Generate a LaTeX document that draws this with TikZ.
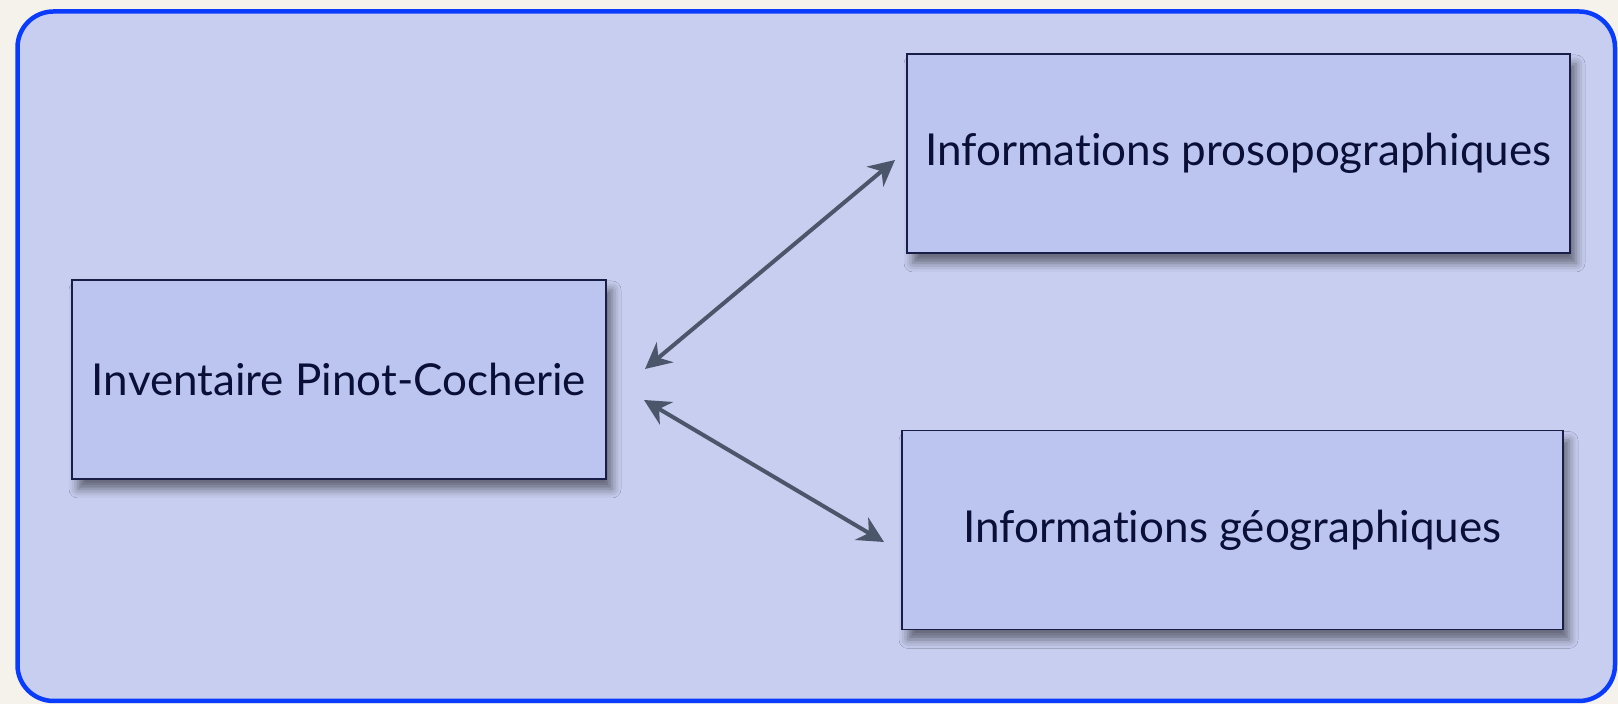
\documentclass[tikz,border=0pt]{standalone}
\usepackage{fontspec}
\setmainfont{Lato}[Ligatures=NoCommon]
\usetikzlibrary{arrows.meta,shadows.blur}
\definecolor{pageback}{RGB}{245,242,236}
\definecolor{panelback}{RGB}{200,206,240}
\definecolor{panelline}{RGB}{10,60,255}
\definecolor{boxback}{RGB}{188,197,240}
\definecolor{boxline}{RGB}{25,30,70}
\definecolor{boxtext}{RGB}{10,15,55}
\definecolor{arrowgrey}{RGB}{75,86,106}
\tikzset{
  infobox/.style={draw=boxline,fill=boxback,line width=0.6pt,text=boxtext,
    font=\fontsize{22}{26}\selectfont,minimum height=99.5pt,inner sep=2pt,
    blur shadow={shadow xshift=3pt,shadow yshift=-5pt,shadow blur radius=4.5pt,shadow opacity=50}},
  linkarrow/.style={draw=arrowgrey,line width=2pt,
    {Stealth[length=13pt,width=13pt]}-{Stealth[length=13pt,width=13pt]}}
}
\begin{document}
\begin{tikzpicture}[x=0.5pt,y=0.5pt]
\useasboundingbox (0,0) rectangle (1618,704);
\fill[pageback] (0,0) rectangle (1618,704);
\draw[draw=panelline,fill=panelback,line width=2.25pt,rounded corners=18pt] (17.5,3) rectangle (1615,692.5);

\node[infobox,minimum width=267pt] (inv) at (339,324.5) {Inventaire Pinot-Cocherie};
\node[infobox,minimum width=331.5pt] (proso) at (1238.5,550.5) {Informations prosopographiques};
\node[infobox,minimum width=330.5pt] (geo) at (1232.5,174) {Informations géographiques};

% free ends of the links
\coordinate (invtop) at (645,335);
\coordinate (prosoend) at (895,544);
\coordinate (invbot) at (644,304);
\coordinate (geoend) at (884,162);
\draw[linkarrow] (invtop) -- (prosoend);
\draw[linkarrow] (invbot) -- (geoend);
\end{tikzpicture}
\end{document}
